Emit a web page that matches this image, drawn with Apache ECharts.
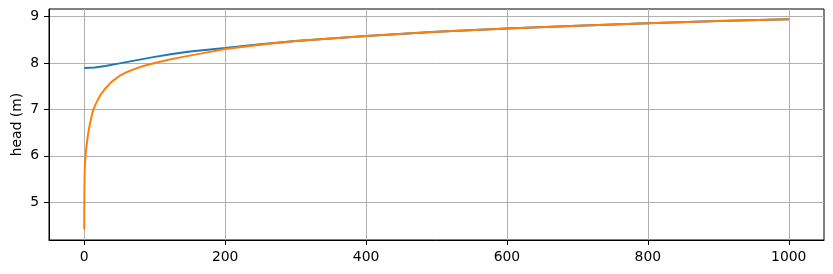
<!DOCTYPE html>
<html>
<head>
<meta charset="utf-8">
<script src="https://cdn.jsdelivr.net/npm/echarts@6/dist/echarts.min.js"></script>
<style>
  html, body { margin: 0; padding: 0; background: #fff; }
  #chart { width: 833px; height: 274px; }
</style>
</head>
<body>
<div id="chart"></div>
<script>
// distance (m) / head (m)
const blueX = [0, 15, 30, 50, 75, 100, 125, 150, 175, 200, 250, 300, 400, 500, 600, 700, 800, 900, 1000]
const blueY = [7.89, 7.90, 7.935, 7.99, 8.06, 8.13, 8.19, 8.245, 8.285, 8.32, 8.40, 8.47, 8.58, 8.67, 8.74, 8.80, 8.855, 8.90, 8.94]
const orangeX = [0, 0.1, 0.3, 0.6, 1, 1.5, 2, 3, 4.5, 6, 8, 10, 12, 15, 19, 24, 30, 36, 42, 50, 60, 70, 85, 100, 120, 140, 165, 200, 250, 300, 400, 500, 600, 700, 800, 900, 1000]
const orangeY = [4.42, 4.9, 5.3, 5.6, 5.8, 5.93, 6.02, 6.18, 6.36, 6.52, 6.68, 6.82, 6.95, 7.07, 7.2, 7.33, 7.45, 7.55, 7.63, 7.72, 7.8, 7.86, 7.94, 8.0, 8.07, 8.13, 8.2, 8.3, 8.39, 8.47, 8.58, 8.67, 8.74, 8.80, 8.855, 8.90, 8.94]
const xTicks = [0, 200, 400, 600, 800, 1000]
const yTicks = [5, 6, 7, 8, 9]

const chart = echarts.init(document.getElementById('chart'))

const font = 'DejaVu Sans'
const pairs = (xs, ys) => xs.map((x, i) => [x, ys[i]])

const option = {
  animation: false,
  textStyle: { fontFamily: font },
  grid: {
    left: 49,
    right: 9,
    top: 9,
    bottom: 34,
    outerBoundsMode: 'none',
    show: true,
    borderColor: '#000',
    borderWidth: 1
  },
  xAxis: {
    type: 'value',
    min: -50,
    max: 1050,
    axisLine: { show: true, onZero: false, lineStyle: { color: '#000', width: 1 } },
    axisTick: { show: true, inside: false, length: 5, customValues: xTicks, lineStyle: { color: '#000' } },
    axisLabel: {
      customValues: xTicks,
      margin: 10,
      color: '#000',
      fontSize: 13.9,
      fontFamily: font,
      formatter: v => String(v)
    },
    splitLine: { show: true, customValues: xTicks, lineStyle: { color: '#b0b0b0', width: 1 } }
  },
  yAxis: {
    type: 'value',
    min: 4.19,
    max: 9.16,
    name: 'head (m)',
    nameLocation: 'middle',
    nameGap: 25,
    nameMoveOverlap: false,
    nameTextStyle: { color: '#000', fontSize: 13.9, fontFamily: font },
    axisLine: { show: true, onZero: false, lineStyle: { color: '#000', width: 1 } },
    axisTick: { show: true, inside: false, length: 5, customValues: yTicks, lineStyle: { color: '#000' } },
    axisLabel: { customValues: yTicks, margin: 10, color: '#000', fontSize: 13.9, fontFamily: font },
    splitLine: { show: true, customValues: yTicks, lineStyle: { color: '#b0b0b0', width: 1 } }
  },
  series: [
    {
      name: 'blue',
      type: 'line',
      data: pairs(blueX, blueY),
      showSymbol: false,
      lineStyle: { color: '#1f77b4', width: 2 },
      itemStyle: { color: '#1f77b4' }
    },
    {
      name: 'orange',
      type: 'line',
      data: pairs(orangeX, orangeY),
      showSymbol: false,
      lineStyle: { color: '#ff7f0e', width: 2 },
      itemStyle: { color: '#ff7f0e' }
    }
  ]
}

chart.setOption(option)
</script>
</body>
</html>
